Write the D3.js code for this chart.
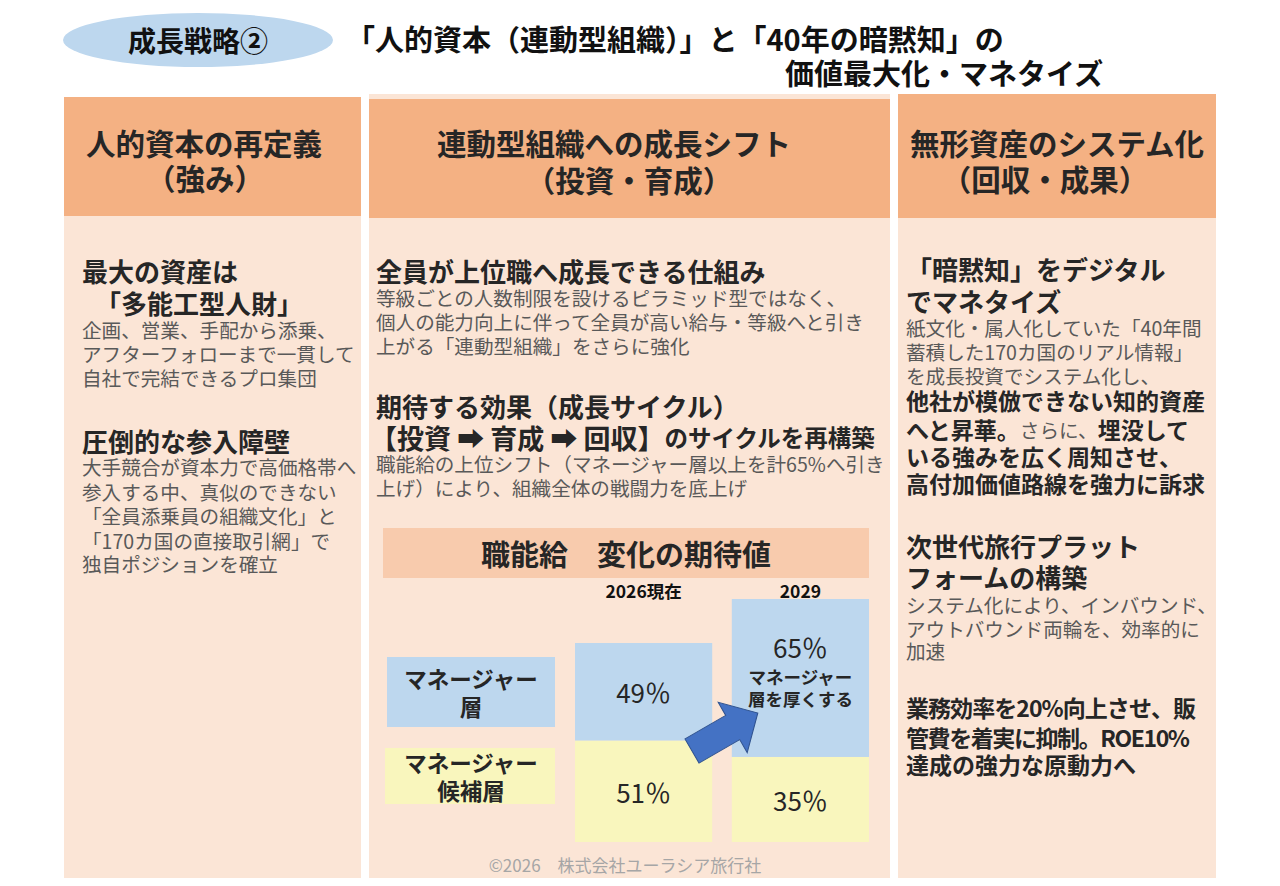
<!DOCTYPE html>
<html lang="ja">
<head>
<meta charset="utf-8">
<script src="https://cdn.jsdelivr.net/npm/d3@7"></script>
<style>
  html, body { margin: 0; padding: 0; background: #fff; }
  svg { display: block; font-family: "Noto Sans CJK JP", "Noto Sans", sans-serif; }
</style>
</head>
<body>
<script>
// ---- data ----
const badge = "成長戦略②";
const titleLines = ["「人的資本（連動型組織）」と「40年の暗黙知」の", "価値最大化・マネタイズ"];
const columnHeads = [
  ["人的資本の再定義", "（強み）"],
  ["連動型組織への成長シフト", "（投資・育成）"],
  ["無形資産のシステム化", "（回収・成果）"]
];
// text blocks: h = heading, b = body, s = strong body; segments [text, bold]
const col1Text = [
  ["h", "最大の資産は"], ["h", "　「多能工型人財」"],
  ["b", "企画、営業、手配から添乗、"], ["b", "アフターフォローまで一貫して"], ["b", "自社で完結できるプロ集団"],
  ["h", "圧倒的な参入障壁"],
  ["b", "大手競合が資本力で高価格帯へ"], ["b", "参入する中、真似のできない"], ["b", "「全員添乗員の組織文化」と"],
  ["b", "「170カ国の直接取引網」で"], ["b", "独自ポジションを確立"]
];
const col2Text = [
  ["h", "全員が上位職へ成長できる仕組み"],
  ["b", "等級ごとの人数制限を設けるピラミッド型ではなく、"],
  ["b", "個人の能力向上に伴って全員が高い給与・等級へと引き"],
  ["b", "上がる「連動型組織」をさらに強化"],
  ["h", "期待する効果（成長サイクル）"],
  ["c", "【投資 ➡ 育成 ➡ 回収】", "のサイクルを再構築"],
  ["b", "職能給の上位シフト（マネージャー層以上を計65%へ引き"],
  ["b", "上げ）により、組織全体の戦闘力を底上げ"]
];
const col3Text = [
  ["h", "「暗黙知」をデジタル"], ["h", "でマネタイズ"],
  ["b", "紙文化・属人化していた「40年間"], ["b", "蓄積した170カ国のリアル情報」"], ["b", "を成長投資でシステム化し、"],
  ["s", "他社が模倣できない知的資産"],
  ["m", [["へと昇華。", true], ["さらに、", false], ["埋没して", true]]],
  ["s", "いる強みを広く周知させ、"], ["s", "高付加価値路線を強力に訴求"],
  ["h", "次世代旅行プラット"], ["h", "フォームの構築"],
  ["b", "システム化により、インバウンド、"], ["b", "アウトバウンド両輪を、効率的に"], ["b", "加速"],
  ["s", "業務効率を20%向上させ、販", 290], ["s", "管費を着実に抑制。ROE10%", 284], ["s", "達成の強力な原動力へ"]
];
const chartTitle = "職能給　変化の期待値";
const years = ["2026現在", "2029"];
const managerShare = [49, 65];
const candidateShare = [51, 35];
const layerNames = [["マネージャー", "層"], ["マネージャー", "候補層"]];
const note2029 = ["マネージャー", "層を厚くする"];
const footer = "©2026　株式会社ユーラシア旅行社";

// ---- drawing ----
const W = 1280, H = 886;
const svg = d3.select("body").append("svg").attr("width", W).attr("height", H);
svg.append("rect").attr("width", W).attr("height", H).attr("fill", "#ffffff");

const peach = "#fbe5d6", orange = "#f4b183", dark = "#262626", gray = "#595959";

// header
svg.append("ellipse").attr("cx", 198).attr("cy", 40).attr("rx", 135).attr("ry", 27).attr("fill", "#bdd7ee");
svg.append("text").attr("x", 198).attr("y", 40).attr("text-anchor", "middle")
  .attr("dominant-baseline", "central").attr("font-size", 28).attr("font-weight", 700)
  .attr("fill", "#111").text(badge);
svg.selectAll("text.title").data(titleLines).join("text").attr("class", "title")
  .attr("x", (d, i) => i === 0 ? 346 : 785).attr("y", (d, i) => i === 0 ? 38 : 72)
  .attr("dominant-baseline", "central").attr("font-size", 29).attr("font-weight", 700)
  .attr("fill", "#111").text(d => d);

// columns
const cols = [
  { x: 64, w: 297, top: 97, headTop: 97, headH: 119, hx: [204, 205], hy: [142, 177], tx: 82, lines: col1Text,
    ys: [270, 302, 329, 353, 377, 440, 466, 491, 515, 540, 563] },
  { x: 369, w: 521, top: 94, headTop: 99, headH: 119, hx: [614, 629], hy: [142, 179], tx: 376, lines: col2Text,
    ys: [270, 297, 321, 345, 405, 437, 463, 487] },
  { x: 898, w: 318, top: 94, headTop: 94, headH: 124, hx: [1057, 1045], hy: [142, 178], tx: 906, lines: col3Text,
    ys: [268, 300, 327, 351, 375, 400, 429, 456, 483, 545, 576, 604, 628, 650, 707, 737, 764] }
];

const bodySize = 19.6, headSize = 26, strongSize = 23;

cols.forEach((c, ci) => {
  svg.append("rect").attr("x", c.x).attr("y", c.top).attr("width", c.w).attr("height", 878 - c.top).attr("fill", peach);
  svg.append("rect").attr("x", c.x).attr("y", c.headTop).attr("width", c.w).attr("height", c.headH).attr("fill", orange);
  svg.selectAll(null).data(columnHeads[ci]).join("text")
    .attr("x", (d, i) => c.hx[i]).attr("y", (d, i) => c.hy[i])
    .attr("text-anchor", "middle").attr("dominant-baseline", "central")
    .attr("font-size", 29.5).attr("font-weight", 700).attr("fill", dark).text(d => d);

  c.lines.forEach((ln, li) => {
    const t = svg.append("text").attr("x", c.tx).attr("y", c.ys[li]).attr("dominant-baseline", "central");
    const kind = ln[0];
    if (kind === "h") {
      t.attr("font-size", headSize).attr("font-weight", 700).attr("fill", dark).text(ln[1]);
    } else if (kind === "b") {
      t.attr("font-size", bodySize).attr("fill", gray).text(ln[1]);
    } else if (kind === "s") {
      t.attr("font-size", strongSize).attr("font-weight", 700).attr("fill", dark).text(ln[1]);
      if (ln[2]) t.attr("textLength", ln[2]).attr("lengthAdjust", "spacing");
    } else if (kind === "c") {
      t.attr("x", c.tx - 6).attr("fill", dark).attr("font-weight", 700);
      t.append("tspan").attr("font-size", 27).text(ln[1]);
      t.append("tspan").attr("font-size", 23.5).text(ln[2]);
    } else if (kind === "m") {
      t.attr("fill", dark);
      ln[1].forEach(seg => {
        t.append("tspan").attr("font-size", seg[1] ? strongSize : bodySize)
          .attr("font-weight", seg[1] ? 700 : 400).attr("fill", seg[1] ? dark : gray).text(seg[0]);
      });
    }
  });
});

// ---- chart: 職能給 変化の期待値 ----
svg.append("rect").attr("x", 383).attr("y", 528).attr("width", 486).attr("height", 50).attr("fill", "#f8cbad");
svg.append("text").attr("x", 626).attr("y", 553).attr("text-anchor", "middle").attr("dominant-baseline", "central")
  .attr("font-size", 29).attr("font-weight", 700).attr("fill", dark).text(chartTitle);

const blue = "#bdd7ee", yellow = "#f9f6bd";
const rows = years.map((y, i) => ({ year: y, candidate: candidateShare[i], manager: managerShare[i] }));
const stack = d3.stack().keys(["candidate", "manager"])(rows);

const x = d3.scaleBand().domain(years).range([575, 869]).paddingInner(0.125);
const baseY = 842;
const barTop = { "2026現在": 643, "2029": 599 };
const yFor = yr => d3.scaleLinear().domain([0, 100]).range([baseY, barTop[yr]]);

// year labels
svg.selectAll("text.year").data(years).join("text").attr("class", "year")
  .attr("x", d => x(d) + x.bandwidth() / 2).attr("y", 590)
  .attr("text-anchor", "middle").attr("dominant-baseline", "central")
  .attr("font-size", 17.5).attr("font-weight", 700).attr("fill", "#111").text(d => d);

const layerColor = { candidate: yellow, manager: blue };
const seg = svg.append("g").selectAll("g").data(stack).join("g").attr("fill", d => layerColor[d.key]);
seg.selectAll("rect").data(d => d.map(p => ({ p, key: d.key }))).join("rect")
  .attr("x", d => x(d.p.data.year))
  .attr("width", x.bandwidth())
  .attr("y", d => yFor(d.p.data.year)(d.p[1]))
  .attr("height", d => yFor(d.p.data.year)(d.p[0]) - yFor(d.p.data.year)(d.p[1]));

// value labels
stack.forEach(layer => {
  layer.forEach(p => {
    const yr = p.data.year, ys = yFor(yr);
    const top = ys(p[1]), bot = ys(p[0]);
    const cx = x(yr) + x.bandwidth() / 2;
    const hasNote = layer.key === "manager" && yr === "2029";
    const cy = hasNote ? top + 47 : (top + bot) / 2;
    svg.append("text").attr("x", cx).attr("y", cy).attr("text-anchor", "middle").attr("dominant-baseline", "central")
      .attr("font-size", 26).attr("fill", dark).text(p.data[layer.key] + "％");
    if (hasNote) {
      svg.selectAll(null).data(note2029).join("text")
        .attr("x", cx).attr("y", (d, i) => top + 77 + i * 22)
        .attr("text-anchor", "middle").attr("dominant-baseline", "central")
        .attr("font-size", 17.5).attr("font-weight", 700).attr("fill", dark).text(d => d);
    }
  });
});

// legend boxes
const legend = [
  { x: 387, y: 657, w: 168, h: 70, fill: blue },
  { x: 385, y: 748, w: 170, h: 56, fill: yellow }
];
legend.forEach((l, i) => {
  svg.append("rect").attr("x", l.x).attr("y", l.y).attr("width", l.w).attr("height", l.h).attr("fill", l.fill);
  svg.selectAll(null).data(layerNames[i]).join("text")
    .attr("x", 471).attr("y", (d, j) => l.y + l.h / 2 - 14 + j * 28)
    .attr("text-anchor", "middle").attr("dominant-baseline", "central")
    .attr("font-size", 22.5).attr("font-weight", 700).attr("fill", dark).text(d => d);
});

// arrow
const aLen = 76, headL = 29, headW = 58, shaftW = 28;
const arrowPts = [
  [0, -shaftW / 2], [aLen - headL, -shaftW / 2], [aLen - headL, -headW / 2], [aLen, 0],
  [aLen - headL, headW / 2], [aLen - headL, shaftW / 2], [0, shaftW / 2]
];
svg.append("path").attr("d", d3.line()(arrowPts) + "Z")
  .attr("transform", "translate(692,751) rotate(-30)")
  .attr("fill", "#4472c4").attr("stroke", "#2f528f").attr("stroke-width", 1);

// footer
svg.append("text").attr("x", 625).attr("y", 864).attr("text-anchor", "middle").attr("dominant-baseline", "central")
  .attr("font-size", 17).attr("fill", "#a6a6a6").text(footer);
</script>
</body>
</html>
